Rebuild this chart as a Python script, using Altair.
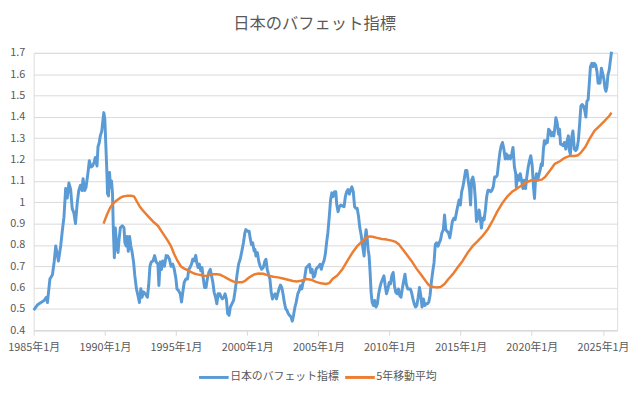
import altair as alt
import pandas as pd

# ---- data (decimal year, value) ----
bf_year = [
    1985.00, 1985.28, 1985.51, 1985.74, 1985.90, 1985.97, 1986.14, 1986.32, 1986.44, 1986.55,
    1986.74, 1986.90, 1987.02, 1987.13, 1987.25, 1987.36, 1987.48, 1987.60, 1987.71, 1987.83,
    1987.94, 1988.06, 1988.17, 1988.29, 1988.40, 1988.47, 1988.59, 1988.68, 1988.82, 1988.91,
    1989.03, 1989.14, 1989.26, 1989.33, 1989.45, 1989.52, 1989.61, 1989.68, 1989.79, 1989.86,
    1989.93, 1990.00, 1990.07, 1990.14, 1990.19, 1990.26, 1990.33, 1990.40, 1990.47, 1990.54,
    1990.60, 1990.67, 1990.74, 1990.83, 1990.93, 1991.00, 1991.09, 1991.23, 1991.35, 1991.41,
    1991.50, 1991.57, 1991.65, 1991.74, 1991.83, 1991.92, 1992.02, 1992.11, 1992.22, 1992.34,
    1992.43, 1992.53, 1992.62, 1992.71, 1992.85, 1992.99, 1993.08, 1993.17, 1993.26, 1993.38,
    1993.50, 1993.61, 1993.73, 1993.80, 1993.89, 1993.98, 1994.07, 1994.19, 1994.31,
    1994.42, 1994.54, 1994.65, 1994.77, 1994.88, 1995.00, 1995.07, 1995.18, 1995.30, 1995.39,
    1995.48, 1995.58, 1995.69, 1995.81, 1995.90, 1995.99, 1996.09, 1996.18, 1996.27, 1996.39,
    1996.46, 1996.55, 1996.64, 1996.74, 1996.83, 1996.92, 1997.01, 1997.11, 1997.20, 1997.31,
    1997.41, 1997.50, 1997.59, 1997.68, 1997.78, 1997.87, 1997.96, 1998.08, 1998.17, 1998.26,
    1998.36, 1998.45, 1998.54, 1998.63, 1998.73, 1998.82, 1998.93, 1999.05, 1999.16, 1999.28,
    1999.40, 1999.51, 1999.63, 1999.74, 1999.84, 1999.91, 2000.02, 2000.14, 2000.21, 2000.30,
    2000.39, 2000.49, 2000.55, 2000.62, 2000.72, 2000.81, 2000.90, 2001.02, 2001.13, 2001.25,
    2001.32, 2001.41, 2001.50, 2001.60, 2001.69, 2001.78, 2001.87, 2001.97, 2002.06, 2002.15,
    2002.24, 2002.34, 2002.43, 2002.52, 2002.61, 2002.71, 2002.80, 2002.89, 2002.98, 2003.08,
    2003.17, 2003.26, 2003.36, 2003.45, 2003.56, 2003.66, 2003.75, 2003.84, 2003.93, 2004.03,
    2004.15, 2004.26, 2004.38, 2004.47, 2004.56, 2004.66, 2004.75, 2004.84, 2004.93, 2005.03,
    2005.12, 2005.21, 2005.30, 2005.40, 2005.49, 2005.58, 2005.67, 2005.77, 2005.86, 2005.95,
    2006.04, 2006.14, 2006.23, 2006.30, 2006.39, 2006.48, 2006.58, 2006.69, 2006.81, 2006.90,
    2006.99, 2007.09, 2007.18, 2007.27, 2007.36, 2007.46, 2007.55, 2007.64, 2007.73, 2007.83,
    2007.92, 2008.01, 2008.08, 2008.15, 2008.22, 2008.29, 2008.36, 2008.43, 2008.50, 2008.57,
    2008.64, 2008.71, 2008.78, 2008.87, 2008.96, 2009.05, 2009.15, 2009.24, 2009.33, 2009.42,
    2009.52, 2009.61, 2009.70, 2009.79, 2009.89, 2009.98, 2010.07, 2010.16, 2010.26, 2010.35,
    2010.44, 2010.54, 2010.63, 2010.72, 2010.81, 2010.90, 2011.00, 2011.09, 2011.18, 2011.28,
    2011.37, 2011.46, 2011.55, 2011.65, 2011.74, 2011.83, 2011.92, 2012.02, 2012.11, 2012.20,
    2012.29, 2012.39, 2012.48, 2012.57, 2012.66, 2012.76, 2012.85, 2012.94, 2013.03, 2013.13,
    2013.22, 2013.31, 2013.41, 2013.50, 2013.59, 2013.68, 2013.78,
    2013.87, 2013.96, 2014.05, 2014.15, 2014.24, 2014.33, 2014.42, 2014.52, 2014.61, 2014.70,
    2014.79, 2014.89, 2014.98, 2015.07, 2015.16, 2015.26, 2015.35, 2015.44, 2015.53, 2015.63,
    2015.70, 2015.77, 2015.86, 2015.95, 2016.04, 2016.11, 2016.21, 2016.30, 2016.37, 2016.46,
    2016.55, 2016.65, 2016.74, 2016.83, 2016.92, 2017.01, 2017.11, 2017.20, 2017.29, 2017.39,
    2017.48, 2017.57, 2017.66, 2017.76, 2017.85, 2017.94, 2018.04, 2018.13, 2018.22, 2018.31,
    2018.40, 2018.50, 2018.59, 2018.68, 2018.78, 2018.87, 2018.91, 2019.01, 2019.10, 2019.19,
    2019.28, 2019.38, 2019.47, 2019.56, 2019.65, 2019.75, 2019.84, 2019.93, 2020.03, 2020.12,
    2020.19, 2020.26, 2020.33, 2020.40, 2020.49, 2020.58, 2020.67, 2020.74, 2020.81, 2020.88,
    2020.95, 2021.02, 2021.09, 2021.18, 2021.28, 2021.37, 2021.46, 2021.55, 2021.65, 2021.69,
    2021.78, 2021.88, 2021.95, 2022.02, 2022.11, 2022.20, 2022.29, 2022.39, 2022.48, 2022.57,
    2022.64, 2022.71, 2022.80, 2022.89, 2022.99, 2023.08, 2023.17, 2023.27, 2023.36, 2023.45,
    2023.54, 2023.64, 2023.73, 2023.80, 2023.87, 2023.96, 2024.05, 2024.12, 2024.22, 2024.31,
    2024.40, 2024.49, 2024.58, 2024.66, 2024.73, 2024.79, 2024.89, 2024.98, 2025.07, 2025.14,
    2025.21, 2025.28, 2025.35, 2025.44, 2025.51, 2025.60,
]
bf_value = [
    0.494, 0.52, 0.53, 0.54, 0.555, 0.53, 0.64, 0.66, 0.72, 0.795,
    0.725, 0.795, 0.87, 0.93, 1.065, 1.02, 1.09, 1.06, 0.97, 0.95,
    0.90, 0.995, 1.055, 1.08, 1.055, 1.11, 1.055, 1.07, 1.14, 1.195,
    1.165, 1.17, 1.19, 1.21, 1.17, 1.26, 1.28, 1.31, 1.335, 1.38,
    1.42, 1.39, 1.27, 1.15, 1.04, 1.03, 1.14, 1.07, 1.10, 1.04,
    0.87, 0.74, 0.88, 0.795, 0.765, 0.825, 0.88, 0.89, 0.88, 0.81,
    0.795, 0.84, 0.77, 0.84, 0.795, 0.765, 0.72, 0.655, 0.595, 0.56,
    0.53, 0.595, 0.555, 0.58, 0.57, 0.555, 0.61, 0.70, 0.72, 0.725,
    0.75, 0.72, 0.71, 0.61, 0.72, 0.685, 0.725, 0.70, 0.75,
    0.748, 0.733, 0.70, 0.71, 0.686, 0.64, 0.594, 0.586, 0.571, 0.532,
    0.578, 0.625, 0.64, 0.64, 0.686, 0.694, 0.71, 0.733, 0.725, 0.751,
    0.717, 0.694, 0.71, 0.679, 0.694, 0.64, 0.601, 0.601, 0.64, 0.671,
    0.686, 0.655, 0.625, 0.578, 0.555, 0.524, 0.571, 0.571, 0.555, 0.547,
    0.555, 0.571, 0.547, 0.478, 0.47, 0.509, 0.524, 0.54, 0.586, 0.655,
    0.71, 0.733, 0.771, 0.81, 0.856, 0.872, 0.864, 0.864, 0.833, 0.802,
    0.81, 0.771, 0.779, 0.748, 0.764, 0.725, 0.702, 0.686, 0.694, 0.725,
    0.733, 0.686, 0.663, 0.64, 0.578, 0.547, 0.563, 0.571, 0.547, 0.571,
    0.594, 0.612, 0.601, 0.571, 0.532, 0.501, 0.493, 0.478, 0.47, 0.463,
    0.443, 0.47, 0.509, 0.532, 0.571, 0.586, 0.609, 0.594, 0.625, 0.64,
    0.694, 0.70, 0.709, 0.671, 0.686, 0.648, 0.655, 0.686, 0.694, 0.70,
    0.709, 0.686, 0.709, 0.725, 0.756, 0.81, 0.856, 0.933, 1.01, 1.044,
    1.026, 1.049, 1.049, 0.987, 0.956, 0.979, 0.987, 0.982, 0.979, 1.026,
    1.049, 1.06, 1.038, 1.057, 1.072, 1.049, 0.979, 0.972, 0.972, 0.933,
    0.879, 0.848, 0.81, 0.779, 0.748, 0.833, 0.871, 0.833, 0.779, 0.748,
    0.671, 0.578, 0.532, 0.516, 0.54, 0.509, 0.524, 0.571, 0.601, 0.624,
    0.64, 0.655, 0.609, 0.571, 0.594, 0.624, 0.617, 0.655, 0.671, 0.609,
    0.578, 0.571, 0.594, 0.563, 0.555, 0.594, 0.632, 0.663, 0.617, 0.594,
    0.594, 0.594, 0.578, 0.547, 0.524, 0.509, 0.516, 0.555, 0.601, 0.563,
    0.509, 0.547, 0.516, 0.524, 0.524, 0.532, 0.563, 0.624, 0.671, 0.717,
    0.802, 0.81, 0.794, 0.81, 0.825, 0.856, 0.871,
    0.94, 0.871, 0.864, 0.856, 0.833, 0.871, 0.91, 0.925, 0.918, 0.949,
    0.98, 1.01, 0.987, 1.049, 1.072, 1.111, 1.149, 1.149, 1.103, 1.056,
    0.987, 1.103, 1.118, 1.087, 1.01, 0.91, 0.925, 0.964, 0.933, 0.879,
    0.925, 0.918, 0.964, 1.026, 1.056, 1.056, 1.049, 1.056, 1.072, 1.118,
    1.118, 1.126, 1.18, 1.234, 1.265, 1.28, 1.249, 1.203, 1.226, 1.203,
    1.218, 1.203, 1.226, 1.257, 1.165, 1.134, 1.072, 1.126, 1.103, 1.134,
    1.103, 1.064, 1.103, 1.064, 1.118, 1.165, 1.195, 1.218, 1.172, 1.072,
    1.018, 1.103, 1.134, 1.103, 1.126, 1.149, 1.18, 1.172, 1.242, 1.288,
    1.272, 1.288, 1.28, 1.342, 1.334, 1.311, 1.327, 1.311, 1.365, 1.396,
    1.373, 1.319, 1.342, 1.272, 1.272, 1.265, 1.28, 1.249, 1.288, 1.311,
    1.242, 1.226, 1.303, 1.334, 1.249, 1.242, 1.249, 1.288, 1.365, 1.45,
    1.458, 1.45, 1.427, 1.399, 1.473, 1.481, 1.566, 1.635, 1.651, 1.635,
    1.651, 1.643, 1.612, 1.558, 1.581, 1.558, 1.628, 1.604, 1.574, 1.535,
    1.52, 1.543, 1.597, 1.62, 1.658, 1.705,
]

ma_year = [
    1989.91, 1990.14, 1990.38, 1990.60, 1990.83, 1991.07, 1991.30, 1991.53, 1991.88, 1992.06,
    1992.22, 1992.45, 1992.69, 1993.03, 1993.38, 1993.73, 1994.07, 1994.42, 1994.65, 1994.88,
    1995.11, 1995.35, 1995.58, 1995.81, 1996.04, 1996.27, 1996.50, 1996.74, 1996.97, 1997.15,
    1997.31, 1997.55, 1997.89, 1998.12, 1998.36, 1998.59, 1998.82, 1999.05, 1999.33, 1999.63,
    1999.86, 2000.09, 2000.32, 2000.55, 2000.79, 2001.13, 2001.36, 2001.60, 2001.83, 2002.18,
    2002.52, 2002.87, 2003.22, 2003.49, 2003.80, 2004.14, 2004.49, 2004.84, 2005.19, 2005.53,
    2005.77, 2006.00, 2006.35, 2006.69, 2007.04, 2007.39, 2007.73, 2008.08, 2008.43, 2008.66,
    2008.89, 2009.12, 2009.47, 2009.82, 2010.16, 2010.44, 2010.67, 2010.90, 2011.21, 2011.55,
    2011.90, 2012.25, 2012.53, 2012.76, 2012.99, 2013.29, 2013.59, 2013.87, 2014.10, 2014.45,
    2014.79, 2015.14, 2015.49, 2015.84, 2016.18, 2016.53, 2016.88, 2017.22, 2017.57, 2017.92,
    2018.27, 2018.61, 2018.96, 2019.31, 2019.65, 2020.00, 2020.35, 2020.70, 2020.93, 2021.28,
    2021.62, 2021.97, 2022.32, 2022.66, 2023.01, 2023.24, 2023.47, 2023.77, 2024.05, 2024.40,
    2024.75, 2025.10, 2025.44, 2025.60,
]
ma_value = [
    0.90, 0.94, 0.975, 0.995, 1.008, 1.02, 1.027, 1.03, 1.03, 1.027,
    1.008, 0.98, 0.96, 0.935, 0.91, 0.89, 0.855, 0.82, 0.794, 0.756,
    0.725, 0.699, 0.689, 0.682, 0.674, 0.666, 0.662, 0.659, 0.655, 0.655,
    0.66, 0.663, 0.663, 0.66, 0.652, 0.643, 0.635, 0.628, 0.625, 0.625,
    0.632, 0.645, 0.655, 0.663, 0.666, 0.665, 0.66, 0.655, 0.651, 0.648,
    0.643, 0.637, 0.631, 0.629, 0.632, 0.64, 0.637, 0.627, 0.62, 0.617,
    0.621, 0.64, 0.658, 0.686, 0.725, 0.763, 0.794, 0.817, 0.836, 0.84,
    0.837, 0.833, 0.828, 0.825, 0.82, 0.814, 0.802, 0.782, 0.755, 0.725,
    0.689, 0.658, 0.632, 0.612, 0.604, 0.601, 0.603, 0.617, 0.637, 0.663,
    0.694, 0.725, 0.763, 0.794, 0.817, 0.841, 0.871, 0.91, 0.956, 0.995,
    1.026, 1.049, 1.064, 1.08, 1.095, 1.103, 1.103, 1.106, 1.118, 1.149,
    1.18, 1.192, 1.208, 1.217, 1.217, 1.22, 1.234, 1.26, 1.296, 1.334,
    1.357, 1.38, 1.404, 1.42,
]

SERIES = ["日本のバフェット指標", "5年移動平均"]
COLORS = ["#5B9BD5", "#ED7D31"]
x_tick_years = [1985, 1990, 1995, 2000, 2005, 2010, 2015, 2020, 2025]
y_ticks = [0.4, 0.5, 0.6, 0.7, 0.8, 0.9, 1.0, 1.1, 1.2, 1.3, 1.4, 1.5, 1.6, 1.7]
TITLE = "日本のバフェット指標"


def to_iso(y):
    yi = int(y)
    start = pd.Timestamp(year=yi, month=1, day=1)
    end = pd.Timestamp(year=yi + 1, month=1, day=1)
    return (start + (end - start) * (y - yi)).strftime("%Y-%m-%dT%H:%M:%S")


rows = []
for yr, v in zip(bf_year, bf_value):
    rows.append({"date": to_iso(yr), "value": v, "series": SERIES[0]})
for yr, v in zip(ma_year, ma_value):
    rows.append({"date": to_iso(yr), "value": v, "series": SERIES[1]})
df = pd.DataFrame(rows)

FONT = "Noto Sans CJK JP"
GRAY = "#595959"
GRID = "#D9D9D9"

x_enc = alt.X(
    "date:T",
    scale=alt.Scale(domain=[alt.DateTime(year=1985, month=1, date=1),
                            alt.DateTime(year=2026, month=1, date=1)]),
    axis=alt.Axis(
        values=[alt.DateTime(year=y, month=1, date=1) for y in x_tick_years],
        labelExpr="timeFormat(datum.value, '%Y年%-m月')",
        title=None, grid=False, domainColor=GRID, tickColor=GRID, tickSize=5,
        labelPadding=6, labelFontSize=11, labelColor=GRAY, labelFont=FONT,
        labelOverlap=False, labelFlush=False,
    ),
)
y_enc = alt.Y(
    "value:Q",
    scale=alt.Scale(domain=[0.4, 1.7], nice=False, zero=False),
    axis=alt.Axis(
        values=y_ticks, labelExpr="format(datum.value, '~g')", title=None,
        domain=False, ticks=False, gridColor=GRID, gridWidth=1,
        labelPadding=9, labelFontSize=11, labelColor=GRAY, labelFont=FONT,
    ),
)
color_enc = alt.Color(
    "series:N",
    scale=alt.Scale(domain=SERIES, range=COLORS),
    legend=alt.Legend(
        title=None, orient="none", legendX=166, legendY=312, direction="horizontal",
        symbolType="stroke", symbolSize=900, symbolStrokeWidth=3,
        labelFont=FONT, labelFontSize=11, labelColor=GRAY, labelOffset=0,
        columnPadding=0, padding=0, labelLimit=300,
    ),
)

base = alt.Chart(df).encode(x=x_enc, y=y_enc, color=color_enc)
blue = base.transform_filter(alt.datum.series == SERIES[0]).mark_line(strokeWidth=3, strokeJoin="round")
orange = base.transform_filter(alt.datum.series == SERIES[1]).mark_line(strokeWidth=2.5, strokeJoin="round")

chart = alt.layer(blue, orange).properties(
    width=591, height=281,
    padding={"left": 26, "top": 43, "right": 15, "bottom": 55},
    autosize=alt.AutoSizeParams(type="none"),
    title=alt.TitleParams(TITLE, font=FONT, fontSize=16.5, fontWeight="normal",
                          color=GRAY, anchor="middle", offset=15, dx=-11),
).configure_view(stroke=None).configure(background="white")

chart.save("out.html", embed_options={"renderer": "svg", "actions": False})
